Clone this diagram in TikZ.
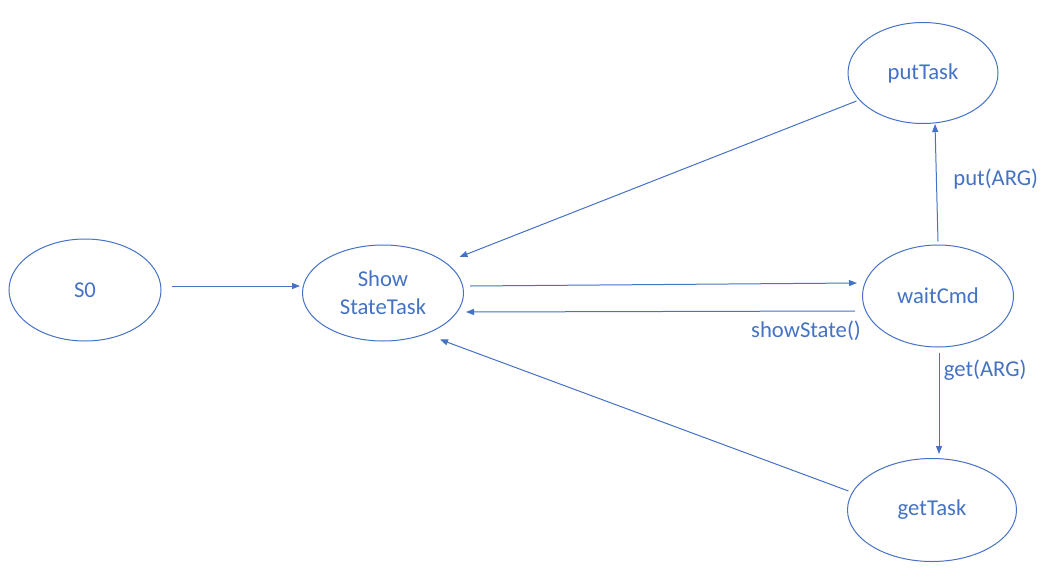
\documentclass[tikz,border=0pt]{standalone}
\usepackage{fontspec}
\setmainfont{Carlito}
\usetikzlibrary{arrows.meta,shapes.geometric}
\definecolor{stateblue}{HTML}{4472C4}

\begin{document}
\begin{tikzpicture}[x=0.75pt,y=-0.75pt,
  state/.style={ellipse,draw=stateblue,line width=0.75pt,inner sep=0pt,text=stateblue,align=center,font=\fontsize{17}{20}\selectfont},
  arr/.style={-{Triangle[length=6pt,width=4.5pt]},draw=stateblue,line width=0.75pt},
  lbl/.style={text=stateblue,font=\fontsize{17}{20}\selectfont}]
\useasboundingbox (0,0) rectangle (1056,578);
\node[state,minimum width=114pt,minimum height=76.5pt] (S0) at (85,290) {S0};
\node[state,minimum width=120.75pt,minimum height=72pt] (show) at (383,293) {Show\\[1pt]StateTask};
\node[state,minimum width=113.25pt,minimum height=76.5pt] (wait) at (938,296) {waitCmd};
\node[state,minimum width=112.5pt,minimum height=75.75pt] (put) at (923,73) {putTask};
\node[state,minimum width=126.75pt,minimum height=77.25pt] (get) at (932,510) {getTask};
\draw[arr] ([shift={(10,-4)}]S0.east) -- ([shift={(-2,-7)}]show.west);
\draw[arr] ([shift={(6,-7)}]show.east) -- ([shift={(-5,-13)}]wait.west);
\draw[arr] ([shift={(-7,15)}]wait.west) -- ([shift={(2,19)}]show.east)
  node[lbl,pos=0.126,below=4pt] {showState()};
\draw[arr] ([shift={(0,-3)}]wait.north) -- ([shift={(12,0)}]put.south)
  node[lbl,pos=0.53,right=9pt] {put(ARG)};
\draw[arr] ([shift={(1,5)}]wait.south) -- ([shift={(7,-4)}]get.north)
  node[lbl,pos=0.17,right] {get(ARG)};
\draw[arr] ([shift={(9,28)}]put.west) -- ([shift={(-4.5,-36)}]show.east);
\draw[arr] ([shift={(1.5,-19)}]get.west) -- ([shift={(57,-2)}]show.south);
\end{tikzpicture}
\end{document}
